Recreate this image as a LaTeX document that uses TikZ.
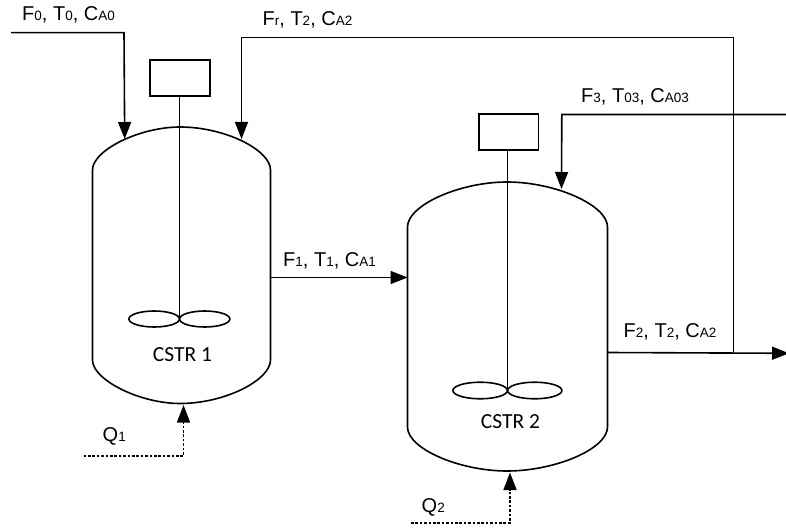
\documentclass[tikz,border=0pt]{standalone}
\usepackage{fontspec}
\setmainfont{Liberation Sans}
\newfontfamily\cstrfont{Carlito}
\usetikzlibrary{arrows.meta}
\newcommand{\lo}[1]{{\fontsize{13.5pt}{15pt}\selectfont #1}}
\tikzset{
  x=1pt,y=-1pt,
  line/.style={line width=1.6pt},
  flow/.style={line,-{Triangle[length=17pt,width=13pt]}},
  heat/.style={line,dash pattern=on 2.6pt off 1.8pt,-{Triangle[length=17.5pt,width=13pt]}},
  lbl/.style={inner sep=0pt,anchor=base west,font=\fontsize{20pt}{24pt}\selectfont},
  tag/.style={inner sep=0pt,font=\cstrfont\fontsize{21.5pt}{25pt}\selectfont},
  motor/.style={draw,line,rectangle,inner sep=0pt,minimum width=59.5pt,minimum height=36pt}
}
\begin{document}
\begin{tikzpicture}
\useasboundingbox (0,0) rectangle (786,529);
% tank 1
\draw[line] (92.5,170) .. controls (92.5,150) and (140,127) .. (180,127)
  .. controls (225,127) and (270.5,150) .. (270.5,170) -- (270.5,360)
  .. controls (270.5,380) and (225,403.5) .. (180,403.5)
  .. controls (140,403.5) and (92.5,380) .. (92.5,360) -- cycle;
% tank 2
\draw[line] (407.5,227) .. controls (407.5,205) and (460,182) .. (507,182)
  .. controls (555,182) and (607.5,205) .. (607.5,227) -- (607.5,427)
  .. controls (607.5,449) and (555,471) .. (507,471)
  .. controls (460,471) and (407.5,449) .. (407.5,427) -- cycle;
% agitators
\node[motor] (m1) at (180,78) {};
\coordinate (h1) at (179.5,319);
\draw[line] (m1.south -| h1) -- (h1);
\draw[line] (154.2,319) ellipse [x radius=25.3,y radius=8];
\draw[line] (204.7,319) ellipse [x radius=25.2,y radius=8];
\node[motor] (m2) at (508.7,132) {};
\coordinate (h2) at (507.5,391);
\draw[line] (m2.south -| h2) -- (h2);
\draw[line] (480.2,390.5) ellipse [x radius=27.3,y radius=8.3];
\draw[line] (534.7,390.5) ellipse [x radius=27.2,y radius=8.3];
% ports
\coordinate (a0) at (11,32.7);
\coordinate (a1) at (124,32.7);
\coordinate (a2) at (124.7,139);
\coordinate (r1) at (241.5,37.5);
\coordinate (r2) at (241.5,139);
\coordinate (j) at (733.5,37.5);
\coordinate (j2) at (733.5,353);
\coordinate (o0) at (607.5,352.5);
\coordinate (o1) at (789,353.3);
\coordinate (f0) at (786,114.5);
\coordinate (f1) at (561.8,114.5);
\coordinate (f2) at (561.5,189);
\coordinate (c0) at (270.5,277.5);
\coordinate (c1) at (407.5,277.5);
\coordinate (q0) at (83.5,455.7);
\coordinate (q1) at (183.5,455.7);
\coordinate (q2) at (183.5,405);
\coordinate (s0) at (411,522.7);
\coordinate (s1) at (510,522.7);
\coordinate (s2) at (510,472.5);
\draw[flow] (a0) -- (a1) -- (a2);
\draw[flow] (j2) -- (j) -- (r1) -- (r2);
\draw[flow] (o0) -- (o1);
\draw[flow] (f0) -- (f1) -- (f2);
\draw[flow] (c0) -- (c1);
\draw[heat] (q0) -- (q1) -- (q2);
\draw[heat] (s0) -- (s1) -- (s2);
% labels
\node[lbl] (l0) at (22,20.5) {F\lo{0}, T\lo{0}, C\lo{A0}};
\node[lbl] (l1) at (262.5,26) {F\lo{r}, T\lo{2}, C\lo{A2}};
\node[lbl] (l2) at (581,103) {F\lo{3}, T\lo{03}, C\lo{A03}};
\node[lbl] (l3) at (283,266) {F\lo{1}, T\lo{1}, C\lo{A1}};
\node[lbl] (l4) at (623.5,337) {F\lo{2}, T\lo{2}, C\lo{A2}};
\node[lbl] (l5) at (102.5,441.5) {Q\lo{1}};
\node[lbl] (l6) at (421.5,512.5) {Q\lo{2}};
\node[tag] (t1) at (182.5,355) {CSTR 1};
\node[tag] (t2) at (510.5,422) {CSTR 2};
\end{tikzpicture}
\end{document}
